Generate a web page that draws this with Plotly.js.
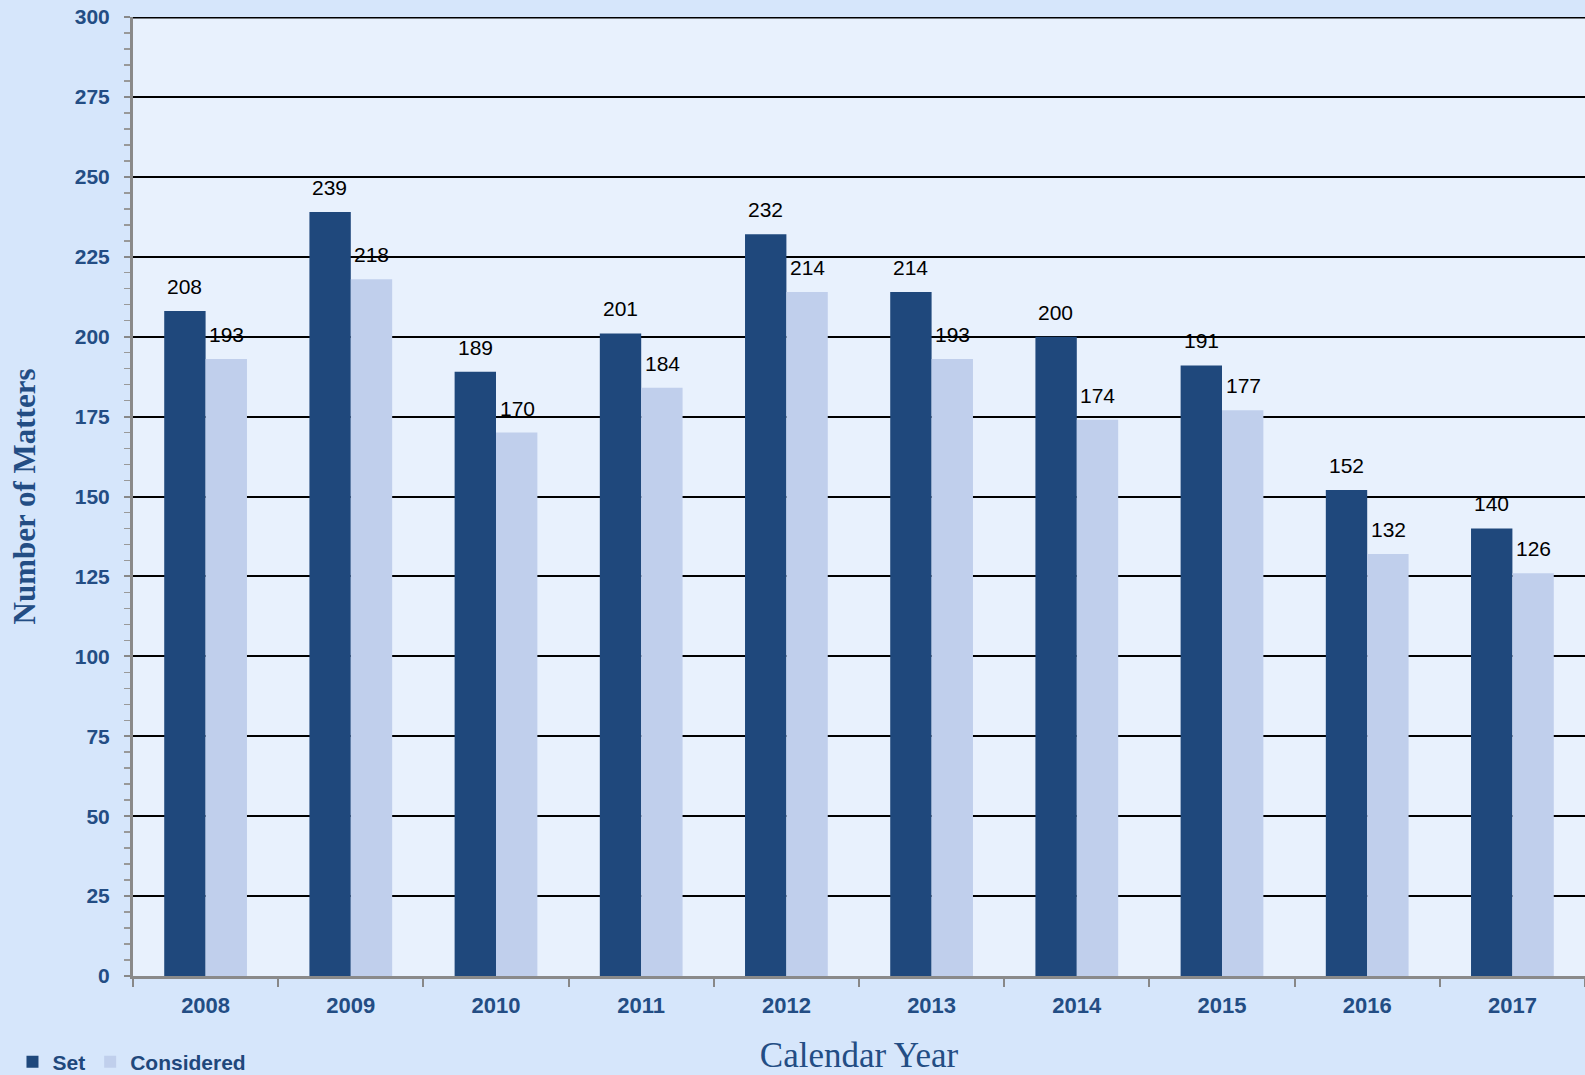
<!DOCTYPE html>
<html>
<head>
<meta charset="utf-8">
<script src="https://cdn.plot.ly/plotly-3.0.1.min.js"></script>
<style>html,body{margin:0;padding:0;background:#d6e6fb;}#chart{width:1585px;height:1075px;}</style>
</head>
<body>
<div id="chart"></div>
<script>
const years = ["2008","2009","2010","2011","2012","2013","2014","2015","2016","2017"];
const setValues = [208, 239, 189, 201, 232, 214, 200, 191, 152, 140];
const consideredValues = [193, 218, 170, 184, 214, 193, 174, 177, 132, 126];
const yTickValues = [0,25,50,75,100,125,150,175,200,225,250,275,300];

const labelFont = {family: "Liberation Sans, Arial, sans-serif", size: 21, color: "#000000"};

const traces = [
  {
    type: "bar", name: "Set", x: years, y: setValues,
    marker: {color: "#1f487c", line: {width: 0}},
    hoverinfo: "skip"
  },
  {
    type: "bar", name: "Considered", x: years, y: consideredValues,
    marker: {color: "#c0cfec", line: {width: 0}},
    hoverinfo: "skip"
  }
];

// category index (serial number) of each year on the category axis
function labelAnnotations(values, shift) {
  return years.map((yr, i) => ({
    x: i, y: values[i], xref: "x", yref: "y",
    text: String(values[i]), showarrow: false,
    xanchor: "center", yanchor: "bottom",
    xshift: shift, yshift: 11,
    font: labelFont
  }));
}

const layout = {
  width: 1585, height: 1075,
  margin: {l: 133, r: 0, t: 17, b: 99, autoexpand: false},
  paper_bgcolor: "#d6e6fb",
  plot_bgcolor: "#e8f1fd",
  barmode: "group",
  bargap: 0.43,
  bargroupgap: 0,
  showlegend: true,
  legend: {
    orientation: "h", x: -0.083, xanchor: "left", y: -0.0897, yanchor: "middle",
    font: {family: "Liberation Sans, Arial, sans-serif", size: 21, color: "#1f487c", weight: "bold"},
    bgcolor: "rgba(0,0,0,0)", itemwidth: 30, traceorder: "normal"
  },
  xaxis: {
    type: "category",
    categoryorder: "array", categoryarray: years,
    range: [-0.5, years.length - 0.5], autorange: false,
    tickson: "boundaries",
    ticks: "outside", ticklen: 8, tickcolor: "#888888", tickwidth: 2,
    ticklabelstandoff: 8,
    showline: true, linecolor: "#8a8a8a", linewidth: 3,
    showgrid: false,
    tickfont: {family: "Liberation Sans, Arial, sans-serif", size: 22, color: "#234d84", weight: "bold"},
    title: {text: "Calendar Year", standoff: 26,
      font: {family: "Liberation Serif, Times New Roman, serif", size: 35, color: "#234d84"}}
  },
  yaxis: {
    range: [0, 300], autorange: false,
    tickvals: yTickValues,
    ticks: "outside", ticklen: 6, tickcolor: "#888888", tickwidth: 2,
    ticklabelstandoff: 10,
    minor: {dtick: 5, ticks: "outside", ticklen: 6, tickcolor: "#999999", tickwidth: 1.5, showgrid: false},
    showline: true, linecolor: "#8a8a8a", linewidth: 3,
    showgrid: true, gridcolor: "#000000", gridwidth: 2,
    zeroline: false,
    tickfont: {family: "Liberation Sans, Arial, sans-serif", size: 21, color: "#234d84", weight: "bold"},
    title: {text: "Number of Matters", standoff: 30,
      font: {family: "Liberation Serif, Times New Roman, serif", size: 31, color: "#234d84", weight: "bold"}}
  },
  annotations: labelAnnotations(setValues, -21).concat(labelAnnotations(consideredValues, 21)),
  shapes: [
    {type: "line", xref: "paper", yref: "y", x0: 0, x1: 1, y0: 300, y1: 300,
     line: {color: "#000000", width: 3}, layer: "above"}
  ]
};

Plotly.newPlot("chart", traces, layout, {displayModeBar: false, staticPlot: true});
</script>
</body>
</html>
